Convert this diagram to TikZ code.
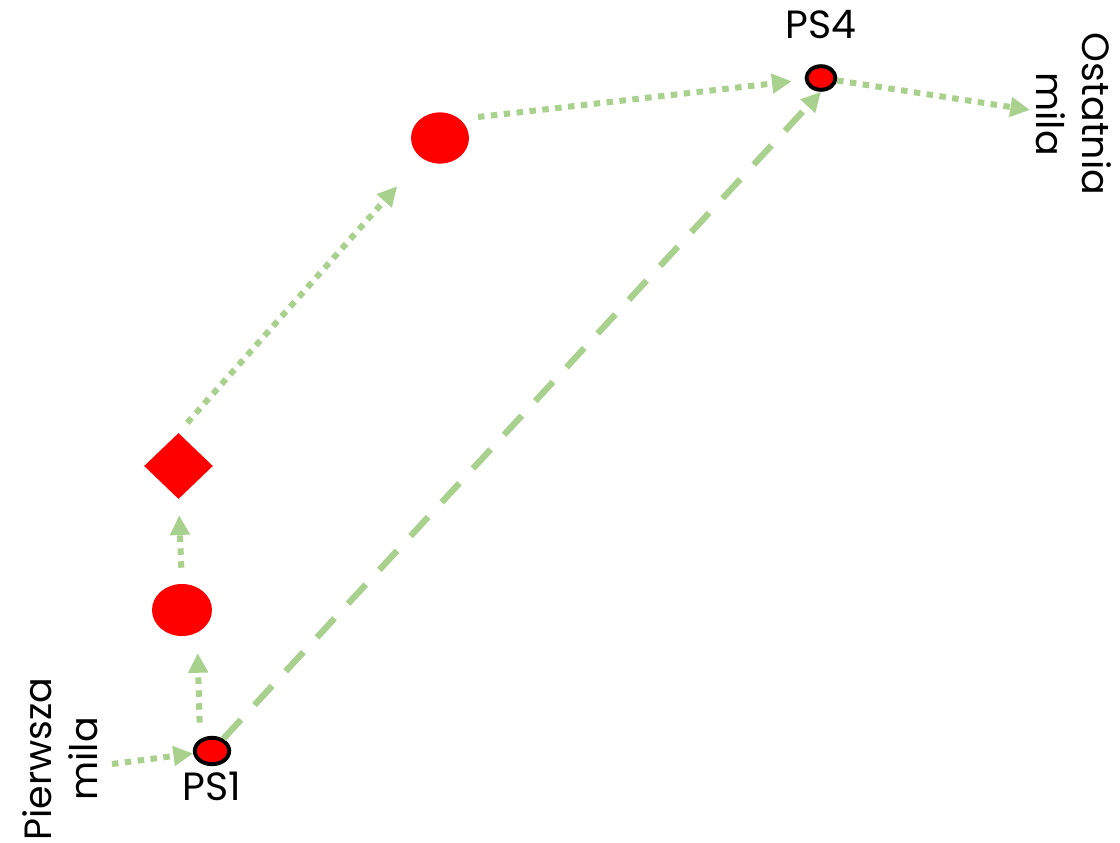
\documentclass[tikz,border=0pt]{standalone}
\usepackage{fontspec}
\setmainfont{Poppins}
\usetikzlibrary{arrows.meta,shapes.geometric,positioning}
\definecolor{flowgreen}{RGB}{169,209,142}
\tikzset{
  stop node/.style={ellipse,draw=black,line width=2.8pt,fill=red,inner sep=0pt},
  hub node/.style={ellipse,fill=red,inner sep=0pt,minimum width=1.5cm,minimum height=1.3cm},
  switch node/.style={diamond,fill=red,inner sep=0pt,minimum width=1.72cm,minimum height=1.65cm},
  stop label/.style={font=\fontsize{28}{33}\selectfont,inner sep=0pt},
  mile label/.style={font=\fontsize{27}{33}\selectfont,align=center,inner sep=0pt},
  dotted flow/.style={flowgreen,line width=4.3pt,dash pattern=on 4.6pt off 4.6pt,
    -{Triangle[length=14pt,width=13.5pt]}},
  dashed flow/.style={flowgreen,line width=4.5pt,dash pattern=on 18.5pt off 14.2pt,
    -{Triangle[length=14pt,width=13.5pt]}},
}

\begin{document}
\begin{tikzpicture}[x=0.025cm,y=-0.025cm]
\useasboundingbox (0,0) rectangle (1120,843);
% stops
\node[stop node,minimum width=0.86cm,minimum height=0.66cm] (ps1) at (212,751) {};
\node[stop node,minimum width=0.72cm,minimum height=0.59cm] (ps4) at (821,78) {};
\node[hub node] (e1) at (182,610) {};
\node[switch node] (dia) at (178.5,466) {};
\node[hub node,minimum width=1.45cm,minimum height=1.28cm] (e2) at (440,138) {};
\node[stop label,below=0.15cm of ps1] (ps1lbl) {PS1};
\node[stop label,above=0.62cm of ps4] (ps4lbl) {PS4};
% first and last mile
\node[mile label,rotate=90] (first) at (60,759) {Pierwsza\\mila};
\node[mile label,rotate=-90] (last) at (1074,114) {Ostatnia\\mila};
\coordinate (pw) at (112,764);
\coordinate (om) at (1030,110);
% flows
\draw[dotted flow] (pw) -- (ps1);
\draw[dotted flow,shorten <=0.33cm,shorten >=0.42cm] ([xshift=-0.3cm]ps1.north) -- ([xshift=0.38cm]e1.south);
\draw[dotted flow,shorten <=0.4cm,shorten >=0.4cm] (e1.north) -- (dia.south);
\draw[dotted flow,shorten <=0.33cm,shorten >=0.93cm] (dia.north) -- (e2);
\draw[dotted flow,shorten <=0.22cm,shorten >=0.33cm] ([yshift=0.5cm]e2.east) -- (ps4);
\draw[dotted flow] (ps4) -- (om);
\draw[dashed flow] (ps1) -- (ps4.south);
\end{tikzpicture}
\end{document}
